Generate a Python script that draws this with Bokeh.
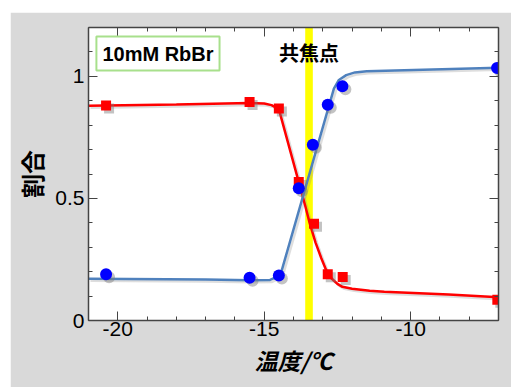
from bokeh.plotting import figure
from bokeh.models import Range1d, LinearAxis, Label, BoxAnnotation, FixedTicker, CustomJSTickFormatter
from bokeh.embed import file_html
from bokeh.resources import INLINE

# ---- data ----
red_x = [-20.4, -15.5, -14.5, -13.82, -13.3, -12.83, -12.32, -7.04]
red_y = [0.881, 0.895, 0.868, 0.567, 0.396, 0.189, 0.178, 0.085]
blue_x = [-20.4, -15.5, -14.5, -13.82, -13.34, -12.83, -12.33, -7.05]
blue_y = [0.189, 0.175, 0.184, 0.542, 0.72, 0.884, 0.959, 1.034]

red_curve_x = [-21, -18, -15.5, -15.0, -14.75, -14.5, -13.82, -13.6, -13.45, -13.25, -13.05,
               -12.88, -12.7, -12.5, -12.33, -12.0, -11.4, -10.9, -8.7, -7.0]
red_curve_y = [0.880, 0.885, 0.891, 0.889, 0.882, 0.866, 0.567, 0.47, 0.40, 0.32, 0.255,
               0.205, 0.172, 0.150, 0.138, 0.130, 0.122, 0.118, 0.106, 0.095]
blue_curve_x = [-21, -17, -15.5, -14.8, -14.45, -12.62, -12.45, -12.2, -11.9, -11.5, -7.0]
blue_curve_y = [0.171, 0.168, 0.165, 0.166, 0.185, 0.95, 0.985, 1.005, 1.016, 1.021, 1.035]

focal_band = [-13.6, -13.34]
focal_label = "共焦点"
sample_label = "10mM RbBr"
x_ticks = [-20, -15, -10]
y_ticks = [0, 0.5, 1]
x_title = "温度/℃"
y_title = "割合"

BG = "#d9d9d9"
AX = "#444444"
SANS = "Liberation Sans"
CJK = "Noto Sans CJK JP"

p = figure(width=501, height=375, output_backend="svg", toolbar_location=None,
           x_range=Range1d(-21, -7), y_range=Range1d(0, 1.2),
           min_border_left=78, min_border_top=15, min_border_right=13, min_border_bottom=67)
p.margin = (12, 0, 0, 10)
p.background_fill_color = "white"
p.border_fill_color = BG
p.outline_line_color = None
p.xgrid.visible = False
p.ygrid.visible = False

def style_axis(ax, ticks, minor, labels=True):
    ax.ticker = FixedTicker(ticks=ticks, minor_ticks=minor)
    ax.axis_line_color = AX
    ax.axis_line_width = 1.5
    ax.major_tick_line_color = AX
    ax.minor_tick_line_color = AX
    ax.major_tick_in = 9
    ax.major_tick_out = 0
    ax.minor_tick_in = 4
    ax.minor_tick_out = 0
    if labels:
        ax.formatter = CustomJSTickFormatter(code="return String(tick)")
        ax.major_label_text_font = SANS
        ax.major_label_text_font_size = "21px"
        ax.major_label_text_color = "black"
    else:
        ax.formatter = CustomJSTickFormatter(code="return ''")
        ax.major_label_text_color = None
        ax.major_label_text_font_size = "1px"
        ax.major_label_standoff = 0
        ax.axis_label_standoff = 0

x_minor = [float(v) for v in range(-21, -6)]
y_minor = [round(v * 0.1, 1) for v in range(0, 13)]

style_axis(p.xaxis[0], x_ticks, x_minor)
style_axis(p.yaxis[0], y_ticks, y_minor)
p.xaxis[0].major_label_standoff = 1
p.yaxis[0].major_label_standoff = 4
p.yaxis[0].major_label_orientation = "horizontal"

p.xaxis[0].axis_label = x_title
p.xaxis[0].axis_label_text_font = CJK
p.xaxis[0].axis_label_text_font_size = "23px"
p.xaxis[0].axis_label_text_font_style = "bold italic"
p.xaxis[0].axis_label_text_color = "black"
p.xaxis[0].axis_label_standoff = 4

p.yaxis[0].axis_label = y_title
p.yaxis[0].axis_label_text_font = CJK
p.yaxis[0].axis_label_text_font_size = "24px"
p.yaxis[0].axis_label_text_font_style = "bold"
p.yaxis[0].axis_label_text_color = "black"
p.yaxis[0].axis_label_standoff = 3

top_ax = LinearAxis()
right_ax = LinearAxis()
style_axis(top_ax, x_ticks, x_minor, labels=False)
style_axis(right_ax, y_ticks, y_minor, labels=False)
p.add_layout(top_ax, "above")
p.add_layout(right_ax, "right")

# focal band
p.add_layout(BoxAnnotation(left=focal_band[0], right=focal_band[1], fill_color="#ffff00",
                           fill_alpha=1.0, line_color=None, level="underlay"))

# shadows (offset a few pixels, derived from the data)
px_x = 14.0 / 410.0
px_y = 1.2 / 293.0
sh = "#7a7a7a"
p.line([v + 2 * px_x for v in red_curve_x], [v - 2 * px_y for v in red_curve_y],
       line_color=sh, line_width=2.5, line_alpha=0.25)
p.line([v + 2 * px_x for v in blue_curve_x], [v - 2 * px_y for v in blue_curve_y],
       line_color=sh, line_width=2.5, line_alpha=0.25)

p.line(red_curve_x, red_curve_y, line_color="#ff0000", line_width=2.5)
p.line(blue_curve_x, blue_curve_y, line_color="#4f81bd", line_width=2.5)

p.scatter([v + 3 * px_x for v in red_x], [v - 3 * px_y for v in red_y], marker="square",
          size=10, fill_color=sh, line_color=None, fill_alpha=0.45)
p.scatter([v + 3 * px_x for v in blue_x], [v - 3 * px_y for v in blue_y], marker="circle",
          size=12, fill_color=sh, line_color=None, fill_alpha=0.45)
p.scatter(red_x, red_y, marker="square", size=10, fill_color="#ff0000", line_color=None)
p.scatter(blue_x, blue_y, marker="circle", size=12, fill_color="#0000ff", line_color=None)

# focal point label
p.add_layout(Label(x=-13.47, y=1.158, text=focal_label, text_align="center", text_baseline="top",
                   text_font=CJK, text_font_size="20px", text_font_style="bold",
                   text_color="black"))

# sample label box
p.add_layout(Label(x=-20.73, y=1.163, text=sample_label, text_align="left", text_baseline="top",
                   text_font=SANS, text_font_size="20px", text_font_style="bold",
                   text_color="black", background_fill_color="white",
                   border_line_color="#a8e08c", border_line_width=2, padding=6))

open("out.html", "w").write(file_html(p, INLINE))
